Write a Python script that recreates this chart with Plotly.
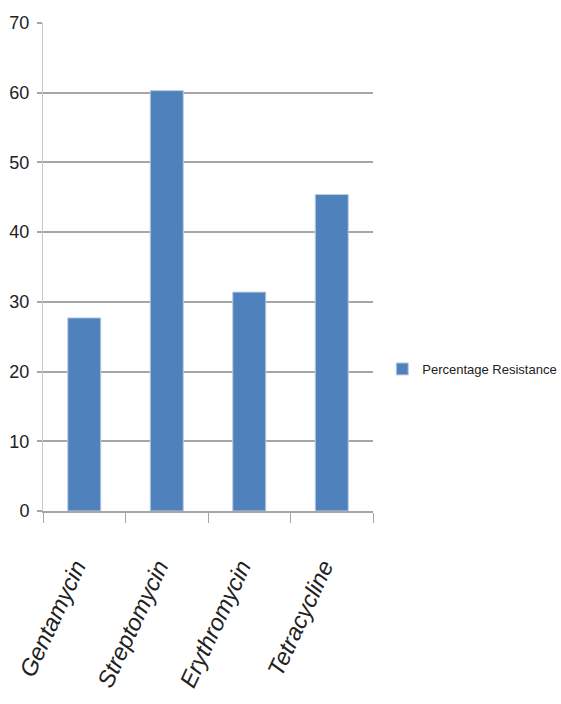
import plotly.graph_objects as go

# Percentage of isolates resistant to each antibiotic
antibiotics = ["Gentamycin", "Streptomycin", "Erythromycin", "Tetracycline"]
resistance = [27.7, 60.3, 31.4, 45.4]
y_ticks = [0, 10, 20, 30, 40, 50, 60, 70]

FONT = "Liberation Sans, Arial, sans-serif"
GRID = "#a6a6a6"
TEXT = "#222222"
PAD = "\u00a0" * 3  # trailing space pushes the slanted labels down the baseline

fig = go.Figure(
    go.Bar(
        x=antibiotics,
        y=resistance,
        name="Percentage Resistance",
        marker=dict(color="#4F81BD", line=dict(color="#b9cde6", width=1)),
        width=0.4,
    )
)

fig.update_layout(
    width=561,
    height=704,
    margin=dict(l=43, r=188, t=23, b=193, autoexpand=False),
    paper_bgcolor="white",
    plot_bgcolor="white",
    showlegend=True,
    legend=dict(
        x=1.028,
        y=0.291,
        xanchor="left",
        yanchor="middle",
        font=dict(family=FONT, size=13, color=TEXT),
        itemwidth=30,
    ),
    font=dict(family=FONT, color=TEXT),
)

fig.update_yaxes(
    range=[0, 70],
    tickvals=y_ticks,
    showgrid=True,
    gridcolor=GRID,
    gridwidth=2,
    zeroline=False,
    showline=True,
    linecolor="#c8c8c8",
    linewidth=1,
    ticks="outside",
    ticklen=5,
    tickwidth=2,
    tickcolor=GRID,
    ticklabelstandoff=4,
    automargin=False,
    tickfont=dict(family=FONT, size=18, color=TEXT),
)

fig.update_xaxes(
    tickvals=antibiotics,
    ticktext=[name + PAD for name in antibiotics],
    showline=True,
    linecolor=GRID,
    linewidth=2,
    ticks="outside",
    tickson="boundaries",
    ticklen=10,
    tickwidth=1,
    tickcolor=GRID,
    tickangle=-65,
    ticklabelstandoff=13,
    automargin=False,
    tickfont=dict(family=FONT, size=23.5, color=TEXT, style="italic"),
)

fig.write_html("out.html")
